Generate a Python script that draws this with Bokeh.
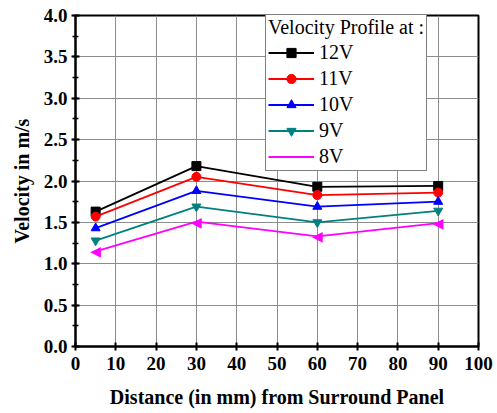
from bokeh.plotting import figure
from bokeh.models import (Range1d, FixedTicker, Legend, LegendItem, NumeralTickFormatter,
                          ColumnDataSource, Label)
from bokeh.core.properties import value
from bokeh.embed import file_html
from bokeh.resources import INLINE

distance = [5, 30, 60, 90]
v12 = [1.63, 2.18, 1.93, 1.94]
v11 = [1.57, 2.05, 1.83, 1.86]
v10 = [1.43, 1.88, 1.69, 1.75]
v9 = [1.28, 1.69, 1.50, 1.64]
v8 = [1.15, 1.51, 1.33, 1.49]
labels = ["12V", "11V", "10V", "9V", "8V"]
colors = ["#000000", "#FF0000", "#0000FF", "#008080", "#FF00FF"]
markers = ["square", "circle", "triangle", "inverted_triangle", "left"]
series = [v12, v11, v10, v9, v8]

FONT = "Liberation Serif"
LEFT_TRI = "\u25C0"

W, H = 497, 413
BL, BR, BT, BB = 75, 19, 15, 67
X0, X1, Y0, Y1 = 0, 100, 0, 4

p = figure(width=W, height=H, output_backend="svg", toolbar_location=None,
           x_range=Range1d(X0, X1), y_range=Range1d(Y0, Y1))
p.min_border_left = BL
p.min_border_right = BR
p.min_border_top = BT
p.min_border_bottom = BB

p.outline_line_color = "black"
p.outline_line_width = 2
p.background_fill_color = "white"
p.border_fill_color = "white"

p.xaxis.ticker = FixedTicker(ticks=list(range(0, 101, 10)))
p.yaxis.ticker = FixedTicker(ticks=[i * 0.5 for i in range(9)],
                             minor_ticks=[i * 0.25 for i in range(17)])
p.yaxis.formatter = NumeralTickFormatter(format="0.0")

for ax in (p.xaxis[0], p.yaxis[0]):
    ax.axis_line_width = 2
    ax.axis_line_color = "black"
    ax.major_tick_line_width = 2
    ax.major_tick_line_color = "black"
    ax.major_tick_out = 4
    ax.major_tick_in = 4
    ax.major_label_text_font = FONT
    ax.major_label_text_font_style = "bold"
    ax.major_label_text_font_size = "19px"
    ax.major_label_text_color = "black"
    ax.axis_label_text_font = FONT
    ax.axis_label_text_font_style = "bold"
    ax.axis_label_text_font_size = "20px"
    ax.axis_label_text_color = "black"

p.xaxis.minor_tick_line_color = None
p.yaxis.minor_tick_line_color = "black"
p.yaxis.minor_tick_line_width = 1.5
p.yaxis.minor_tick_out = 3
p.yaxis.minor_tick_in = 3
p.xaxis.major_label_standoff = 6
p.yaxis.major_label_standoff = 4
p.xaxis.axis_label = "Distance (in mm) from Surround Panel"
p.yaxis.axis_label = "Velocity in m/s"
p.xaxis.axis_label_standoff = 13
p.yaxis.axis_label_standoff = 8

p.xgrid.grid_line_color = "#8c8c8c"
p.ygrid.grid_line_color = "#8c8c8c"
p.xgrid.grid_line_width = 1
p.ygrid.grid_line_width = 1

items = []
for lab, col, mk, ys in zip(labels, colors, markers, series):
    src = ColumnDataSource(dict(x=distance, y=ys, t=[LEFT_TRI] * len(distance)))
    r1 = p.line("x", "y", source=src, line_color=col, line_width=1.8)
    if mk == "left":
        r2 = p.text("x", "y", text="t", source=src, text_color=col,
                    text_font=value("DejaVu Sans"), text_font_size="14px",
                    text_align="center", text_baseline="middle")
    else:
        r2 = p.scatter("x", "y", source=src, marker=mk, size=9,
                       fill_color=col, line_color=col)
    items.append(LegendItem(label=lab, renderers=[r1, r2]))

PAD = 2
GLYPH_W = 46
ROW_H = 23
ROW_GAP = 3
LEG_X, LEG_Y = 190, 175
legend = Legend(items=items, location=(LEG_X, LEG_Y))
legend.title = "Velocity Profile at :"
legend.title_text_font = FONT
legend.title_text_font_size = "20px"
legend.title_text_font_style = "normal"
legend.title_text_color = "black"
legend.title_standoff = 2
legend.label_text_font = FONT
legend.label_text_font_size = "20px"
legend.label_text_color = "black"
legend.glyph_width = GLYPH_W
legend.glyph_height = ROW_H
legend.label_height = ROW_H
legend.spacing = ROW_GAP
legend.padding = PAD
legend.margin = 0
legend.label_standoff = 5
legend.border_line_color = "black"
legend.border_line_width = 1.5
legend.background_fill_alpha = 1
legend.background_fill_color = "white"
p.add_layout(legend, "center")

# legend symbol for the left-pointing triangle series (last legend row),
# placed by converting the legend's pixel position through the fixed ranges
frame_w = W - BL - BR
frame_h = H - BT - BB
sym_px = LEG_X + PAD + GLYPH_W / 2
sym_py = LEG_Y + PAD + ROW_H / 2
legend_sym = Label(x=X0 + sym_px / frame_w * (X1 - X0),
                   y=Y0 + sym_py / frame_h * (Y1 - Y0),
                   text=LEFT_TRI,
                   text_color=colors[-1], text_font="DejaVu Sans",
                   text_font_size="14px", text_align="center",
                   text_baseline="middle", level="overlay")
p.add_layout(legend_sym, "center")

open("out.html", "w").write(file_html(p, INLINE))
